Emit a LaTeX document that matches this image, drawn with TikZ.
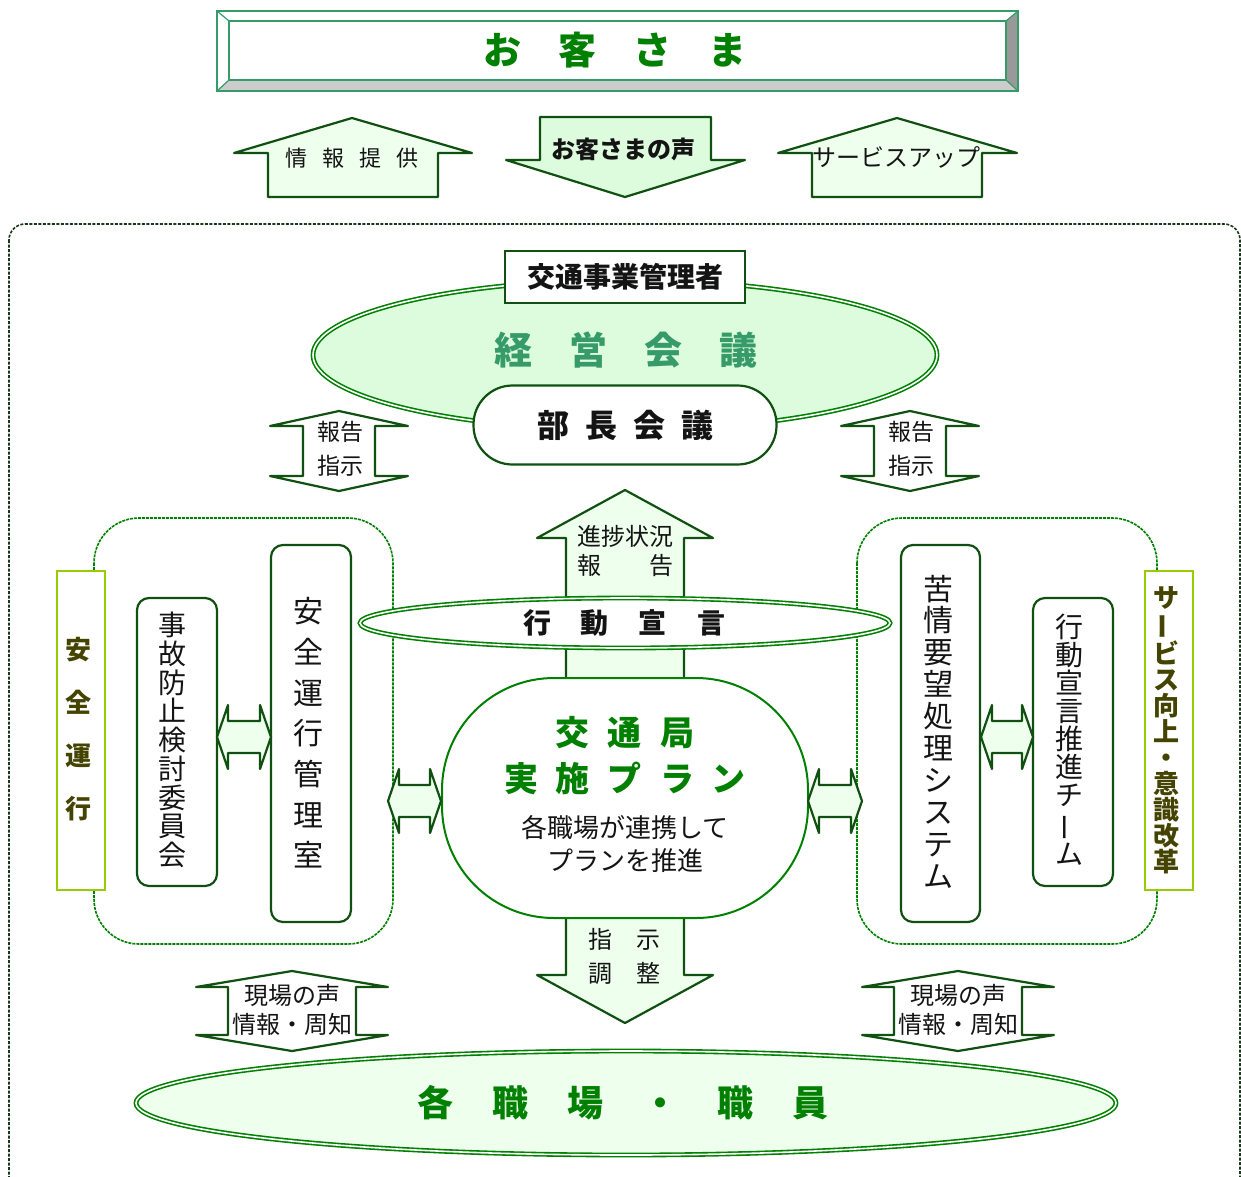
\documentclass[tikz,border=0pt]{standalone}
\usepackage{fontspec}
\setmainfont{Noto Sans CJK JP}
\usepackage{graphicx}
\newcommand\fz[2]{\fontsize{#1pt}{#2pt}\selectfont}
\newcommand\hgap[1]{\hspace*{#1pt}}
\newcommand\vbar{\rotatebox[origin=c]{90}{ー}}
\definecolor{dkg}{RGB}{16,80,16}
\definecolor{grn}{RGB}{0,128,0}
\definecolor{mgrn}{RGB}{55,155,105}
\definecolor{lf}{RGB}{238,255,238}
\definecolor{lf2}{RGB}{221,252,221}
\definecolor{ygrn}{RGB}{153,204,0}
\definecolor{olv}{RGB}{68,68,0}
\definecolor{txt}{RGB}{20,20,20}
\definecolor{outd}{RGB}{25,55,25}
\definecolor{bvg}{RGB}{153,153,153}
\definecolor{bvl}{RGB}{204,204,204}
% vertical double arrow: cx, ytop, ybot, wing, shaft, head
\newcommand\vdarrow[6]{%
  \draw[varr] (#1,#2) -- ({#1+#4},{#2+#6}) -- ({#1+#5},{#2+#6}) -- ({#1+#5},{#3-#6}) -- ({#1+#4},{#3-#6}) -- (#1,#3)
   -- ({#1-#4},{#3-#6}) -- ({#1-#5},{#3-#6}) -- ({#1-#5},{#2+#6}) -- ({#1-#4},{#2+#6}) -- cycle;}
% horizontal double arrow: x1, x2, yc
\newcommand\hdarrow[3]{%
  \draw[arr] (#1,#3) -- ({#1+11},{#3-32}) -- ({#1+11},{#3-16}) -- ({#2-11},{#3-16}) -- ({#2-11},{#3-32}) -- (#2,#3)
   -- ({#2-11},{#3+32}) -- ({#2-11},{#3+16}) -- ({#1+11},{#3+16}) -- ({#1+11},{#3+32}) -- cycle;}
\begin{document}
\begin{tikzpicture}[x=1pt,y=-1pt,
  every node/.style={inner sep=0pt, outer sep=0pt, text=txt},
  arr/.style={draw=dkg, line width=2.2pt, fill=lf, line join=round},
  varr/.style={draw=dkg, line width=2.2pt, fill=white, line join=round},
  rbox/.style={draw=dkg, line width=2.2pt, fill=white, rounded corners=12pt, align=center},
  lbox/.style={draw=ygrn, line width=2.5pt, fill=white, align=center, text=olv, font=\bfseries},
  dashbox/.style={draw=grn, dash pattern=on 3pt off 1pt, line width=1.6pt, rounded corners=45pt},
  dbl/.style={draw=grn, line width=1.6pt, double=white, double distance=1.6pt},
]
\useasboundingbox (0,0) rectangle (1241,1176);
\fill[white] (0,0) rectangle (1241,1176);

% ---- top box
\fill[white] (217,11) rectangle (1018,91);
\fill[bvg] (1018,11) -- (1018,91) -- (1006,80) -- (1006,21) -- cycle;
\fill[bvl] (217,91) -- (1018,91) -- (1006,80) -- (229,80) -- cycle;
\draw[mgrn, line width=2pt] (217,11) rectangle (1018,91);
\draw[mgrn, line width=1.6pt] (229,21) rectangle (1006,80);
\draw[mgrn, line width=1.2pt] (217,11) -- (229,21) (1018,11) -- (1006,21) (217,91) -- (229,80) (1018,91) -- (1006,80);
\node[font=\bfseries\fz{38}{38}, text=grn] (okyaku) at (615,50) {お\hgap{37}客\hgap{37}さ\hgap{37}ま};

% ---- arrows row
\draw[arr] (352,118) -- (472,153) -- (438,153) -- (438,197) -- (268,197) -- (268,153) -- (234,153) -- cycle;
\node[font=\fz{22}{22}] (joho) at (352,158) {情\hgap{15}報\hgap{15}提\hgap{15}供};
\draw[arr, fill=lf2] (540,117) -- (711,117) -- (711,160) -- (745,160) -- (625,197) -- (506,160) -- (540,160) -- cycle;
\node[font=\bfseries\fz{24}{24}] (koe) at (623,149) {お客さまの声};
\draw[arr] (897,118) -- (1017,153) -- (982,153) -- (982,197) -- (812,197) -- (812,153) -- (778,153) -- cycle;
\node[font=\fz{24}{24}] (svup) at (896,157) {サービスアップ};

% ---- outer dashed frame
\draw[outd, dash pattern=on 3pt off 1.5pt, line width=1.6pt, rounded corners=16pt] (9,224) rectangle (1240,1210);

% ---- management ellipse
\draw[dbl, fill=lf2] (625,355) ellipse [x radius=312, y radius=75];
\node[font=\bfseries\fz{38}{38}, text=mgrn] (keiei) at (626,350) {経\hgap{37}営\hgap{37}会\hgap{37}議};
\node[draw=dkg, line width=2.2pt, fill=white, minimum width=240pt, minimum height=52pt, font=\bfseries\fz{28}{28}] (kanri) at (625,277) {交通事業管理者};
\node[draw=dkg, line width=2.2pt, fill=white, rounded corners=39pt, minimum width=303pt, minimum height=79pt, font=\bfseries\fz{32}{32}] (bucho) at (625,425) {部\hgap{16}長\hgap{16}会\hgap{16}議};

% ---- report / instruct arrows
\vdarrow{339}{411}{491}{69}{36}{15}
\node[font=\fz{23}{23}] (hl1) at (340,432) {報告};
\node[font=\fz{23}{23}] (hl2) at (340,466) {指示};
\vdarrow{910}{411}{491}{69}{36}{15}
\node[font=\fz{23}{23}] (hr1) at (911,432) {報告};
\node[font=\fz{23}{23}] (hr2) at (911,466) {指示};

% ---- dashed groups
\draw[dashbox] (94,518) rectangle (393,944);
\draw[dashbox] (857,518) rectangle (1157,944);

% ---- progress arrow (up) and instruction arrow (down)
\draw[arr] (625,490) -- (713,538) -- (684,538) -- (684,700) -- (566,700) -- (566,538) -- (537,538) -- cycle;
\node[font=\fz{24}{24}] (shin1) at (625,536) {進捗状況};
\node[font=\fz{24}{24}] (shin2) at (625,565) {報\hgap{48}告};
\draw[arr] (566,900) -- (684,900) -- (684,975) -- (713,975) -- (625,1023) -- (537,975) -- (566,975) -- cycle;
\node[font=\fz{24}{24}] (shiji1) at (624,939) {指\hgap{24}示};
\node[font=\fz{24}{24}] (shiji2) at (624,973) {調\hgap{24}整};

% ---- action declaration ellipse
\draw[dbl, fill=white] (625,623) ellipse [x radius=265, y radius=25];
\node[font=\bfseries\fz{28}{28}] (kodo) at (624,623) {行\hgap{30}動\hgap{30}宣\hgap{30}言};

% ---- plan oval
\node[draw=grn, line width=2pt, fill=white, rounded corners=112pt, minimum width=366pt, minimum height=240pt] (plan) at (625,798) {};
\node[font=\bfseries\fz{34}{34}, text=grn] (p1) at (625,733) {交\hgap{19}通\hgap{19}局};
\node[font=\bfseries\fz{34}{34}, text=grn] (p2) at (625,778) {実\hgap{18}施\hgap{18}プ\hgap{18}ラ\hgap{18}ン};
\node[font=\fz{26}{26}] (p3) at (625,828) {各職場が連携して};
\node[font=\fz{26}{26}] (p4) at (625,861) {プランを推進};

% ---- left group
\node[lbox, minimum width=48pt, minimum height=319pt] (anzen) at (81,730.5) {};
\node[font=\bfseries\fz{26}{53}, text=olv, align=center] (anzent) at (78,729.5) {安\\全\\運\\行};
\node[rbox, minimum width=80pt, minimum height=288pt] (jiko) at (177,742) {};
\node[font=\fz{28}{28.75}, align=center] (jikot) at (172,740) {事\\故\\防\\止\\検\\討\\委\\員\\会};
\node[rbox, minimum width=80pt, minimum height=377pt] (kanrishitsu) at (311,733.5) {};
\node[font=\fz{30}{40.7}, align=center] (kanrit) at (308,733) {安\\全\\運\\行\\管\\理\\室};
\hdarrow{217}{271}{737}
\hdarrow{388}{441}{801}

% ---- right group
\node[rbox, minimum width=79pt, minimum height=377pt] (kujo) at (940.5,733.5) {};
\node[font=\fz{30}{31.9}, align=center] (kujot) at (938,731.5) {苦\\情\\要\\望\\処\\理\\シ\\ス\\テ\\ム};
\node[rbox, minimum width=80pt, minimum height=288pt] (team) at (1073,742) {};
\node[font=\fz{28}{28.1}, align=center] (teamt) at (1069,739.5) {行\\動\\宣\\言\\推\\進\\チ\\\vbar\\ム};
\node[lbox, minimum width=48pt, minimum height=319pt] (service) at (1169,730.5) {};
\node[font=\bfseries\fz{26}{26}, text=olv, align=center] (servicet) at (1166,730) {サ\\\vbar\\ビ\\ス\\向\\上\\・\\意\\識\\改\\革};
\hdarrow{981}{1033}{737}
\hdarrow{808}{862}{801}

% ---- field voice arrows
\vdarrow{292}{971}{1051}{96}{64}{16}
\node[font=\fz{24}{24}] (gl1) at (292,995) {現場の声};
\node[font=\fz{24}{24}] (gl2) at (292,1024) {情報・周知};
\vdarrow{958}{971}{1051}{96}{64}{16}
\node[font=\fz{24}{24}] (gr1) at (958,995) {現場の声};
\node[font=\fz{24}{24}] (gr2) at (958,1024) {情報・周知};

% ---- bottom ellipse
\draw[dbl, fill=lf] (626,1103) ellipse [x radius=490, y radius=52];
\node[font=\bfseries\fz{36}{36}, text=grn] (shokuba) at (623,1103) {各\hgap{39}職\hgap{39}場\hgap{39}・\hgap{39}職\hgap{39}員};
\end{tikzpicture}
\end{document}
